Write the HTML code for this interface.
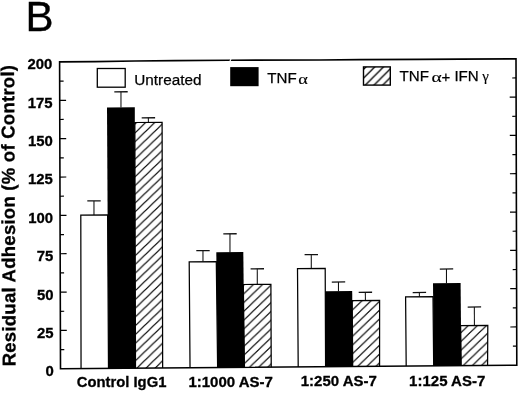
<!DOCTYPE html>
<html><head><meta charset="utf-8"><title>Figure B</title>
<style>
html,body{margin:0;padding:0;background:#fff;}
body{width:520px;height:393px;overflow:hidden;}
svg{display:block;}
text{font-family:"Liberation Sans",Arial,Helvetica,sans-serif;fill:#000;}
.b15{font-size:14.9px;font-weight:bold;}
.b145{font-size:14.8px;font-weight:bold;}
.yt{font-size:18.5px;font-weight:bold;}
.B{font-size:42px;}
.r15{font-size:15.3px;}
.r15,.r15b,.r15d{stroke:#000;stroke-width:0.25px;}
.gr{stroke:#000;stroke-width:0.15px;}
.r15b{font-size:14.9px;}
.r15d{font-size:15.1px;}
.gr{font-family:"Liberation Serif","DejaVu Serif",serif;font-size:14.6px;}
.b150{font-size:15px;font-weight:bold;}
.b15,.b145,.b150,.yt{stroke:#000;stroke-width:0.3px;}
.B{stroke:#000;stroke-width:0.35px;}
</style></head><body>
<svg width="520" height="393" viewBox="0 0 520 393">
<defs>
<pattern id="hb0" patternUnits="userSpaceOnUse" width="9.1" height="8.78" x="136.0" y="0.20">
<path d="M-1,9.745 L10.1,-0.965 M-1,18.525 L10.1,7.815 M-1,0.965 L10.1,-9.745" stroke="#000" stroke-width="1.2" fill="none"/>
</pattern>
<pattern id="hb1" patternUnits="userSpaceOnUse" width="9.1" height="8.78" x="136.0" y="2.70">
<path d="M-1,9.745 L10.1,-0.965 M-1,18.525 L10.1,7.815 M-1,0.965 L10.1,-9.745" stroke="#000" stroke-width="1.2" fill="none"/>
</pattern>
<pattern id="hb2" patternUnits="userSpaceOnUse" width="9.1" height="8.78" x="136.0" y="0.80">
<path d="M-1,9.745 L10.1,-0.965 M-1,18.525 L10.1,7.815 M-1,0.965 L10.1,-9.745" stroke="#000" stroke-width="1.2" fill="none"/>
</pattern>
<pattern id="hb3" patternUnits="userSpaceOnUse" width="9.1" height="8.78" x="136.0" y="-3.55">
<path d="M-1,9.745 L10.1,-0.965 M-1,18.525 L10.1,7.815 M-1,0.965 L10.1,-9.745" stroke="#000" stroke-width="1.2" fill="none"/>
</pattern>
<pattern id="h2" patternUnits="userSpaceOnUse" width="8.75" height="8.75" x="363" y="-0.1">
<path d="M-1,9.75 L9.75,-1 M-1,18.5 L9.75,7.75 M-1,1 L9.75,-9.75" stroke="#000" stroke-width="1.3" fill="none"/>
</pattern>
</defs>
<rect width="520" height="393" fill="#fff"/>
<path d="M94.0,215.1 L93.95,200.9" stroke="#111" stroke-width="1.05" fill="none"/>
<path d="M87.3,200.95 L100.7,200.85" stroke="#111" stroke-width="1.3" fill="none"/>
<polygon points="80.80,215.2 107.62,215.0 108.50,368.4 81.05,368.6" fill="#fff"/>
<path d="M81.05,368.6 L80.80,215.2 L107.62,215.0 L108.50,368.4" fill="none" stroke="#000" stroke-width="1.25"/>
<path d="M121.0,107.6 L120.95,91.8" stroke="#111" stroke-width="1.05" fill="none"/>
<path d="M114.3,91.85 L127.7,91.75" stroke="#111" stroke-width="1.3" fill="none"/>
<polygon points="107.00,107.5 134.80,107.3 135.50,368.2 108.50,368.4" fill="#000"/>
<path d="M148.4,122.4 L148.35,117.8" stroke="#111" stroke-width="1.05" fill="none"/>
<path d="M141.7,117.85 L155.1,117.75" stroke="#111" stroke-width="1.3" fill="none"/>
<polygon points="134.84,122.5 162.10,122.3 162.65,368.0 135.50,368.2" fill="url(#hb0)"/>
<path d="M135.50,368.2 L134.84,122.5 L162.10,122.3 L162.65,368.0" fill="none" stroke="#000" stroke-width="1.25"/>
<path d="M203.0,261.7 L202.95,250.6" stroke="#111" stroke-width="1.05" fill="none"/>
<path d="M196.3,250.65 L209.7,250.55" stroke="#111" stroke-width="1.3" fill="none"/>
<polygon points="189.20,261.8 216.30,261.6 217.63,367.6 190.03,367.8" fill="#fff"/>
<path d="M190.03,367.8 L189.20,261.8 L216.30,261.6 L217.63,367.6" fill="none" stroke="#000" stroke-width="1.25"/>
<path d="M230.0,252.4 L229.95,233.8" stroke="#111" stroke-width="1.05" fill="none"/>
<path d="M223.3,233.85 L236.7,233.75" stroke="#111" stroke-width="1.3" fill="none"/>
<polygon points="216.30,252.3 243.30,252.1 244.56,367.4 217.66,367.6" fill="#000"/>
<path d="M257.3,284.4 L257.25,268.8" stroke="#111" stroke-width="1.05" fill="none"/>
<path d="M250.6,268.85 L264.0,268.75" stroke="#111" stroke-width="1.3" fill="none"/>
<polygon points="243.30,284.5 270.90,284.3 271.23,367.2 244.43,367.4" fill="url(#hb1)"/>
<path d="M244.43,367.4 L243.30,284.5 L270.90,284.3 L271.23,367.2" fill="none" stroke="#000" stroke-width="1.25"/>
<path d="M311.3,268.5 L311.25,254.6" stroke="#111" stroke-width="1.05" fill="none"/>
<path d="M304.6,254.65 L318.0,254.55" stroke="#111" stroke-width="1.3" fill="none"/>
<polygon points="297.50,268.6 325.20,268.4 325.60,366.7 298.20,366.9" fill="#fff"/>
<path d="M298.20,366.9 L297.50,268.6 L325.20,268.4 L325.60,366.7" fill="none" stroke="#000" stroke-width="1.25"/>
<path d="M338.5,291.3 L338.45,282.0" stroke="#111" stroke-width="1.05" fill="none"/>
<path d="M331.8,282.05 L345.2,281.95" stroke="#111" stroke-width="1.3" fill="none"/>
<polygon points="325.20,291.2 352.20,291.0 352.71,366.5 325.51,366.7" fill="#000"/>
<path d="M365.4,300.6 L365.35,292.3" stroke="#111" stroke-width="1.05" fill="none"/>
<path d="M358.7,292.35 L372.1,292.25" stroke="#111" stroke-width="1.3" fill="none"/>
<polygon points="352.20,300.7 379.60,300.5 379.57,366.3 352.67,366.5" fill="url(#hb2)"/>
<path d="M352.67,366.5 L352.20,300.7 L379.60,300.5 L379.57,366.3" fill="none" stroke="#000" stroke-width="1.25"/>
<path d="M419.4,296.7 L419.35,292.5" stroke="#111" stroke-width="1.05" fill="none"/>
<path d="M412.7,292.55 L426.1,292.45" stroke="#111" stroke-width="1.3" fill="none"/>
<polygon points="405.60,296.8 433.00,296.6 433.69,365.9 406.19,366.1" fill="#fff"/>
<path d="M406.19,366.1 L405.60,296.8 L433.00,296.6 L433.69,365.9" fill="none" stroke="#000" stroke-width="1.25"/>
<path d="M446.5,283.3 L446.45,269.0" stroke="#111" stroke-width="1.05" fill="none"/>
<path d="M439.8,269.05 L453.2,268.95" stroke="#111" stroke-width="1.3" fill="none"/>
<polygon points="433.00,283.2 460.60,283.0 461.34,365.7 433.74,365.9" fill="#000"/>
<path d="M474.4,325.6 L474.35,307.0" stroke="#111" stroke-width="1.05" fill="none"/>
<path d="M467.7,307.05 L481.1,306.95" stroke="#111" stroke-width="1.3" fill="none"/>
<polygon points="460.60,325.7 487.80,325.5 487.57,365.5 461.17,365.7" fill="url(#hb3)"/>
<path d="M461.17,365.7 L460.60,325.7 L487.80,325.5 L487.57,365.5" fill="none" stroke="#000" stroke-width="1.25"/>
<path d="M59.6,61.90 L95,61.60 L135,61.00 L175,60.60 L228,60.20 L320,59.95 L360,59.65 L420,59.40 L460,59.10 L516.0,58.80 L516.8,365.25 L60.5,368.80 Z" fill="none" stroke="#000" stroke-width="1.6" stroke-linejoin="miter"/>
<path d="M229.6,62 L231.2,58.5" stroke="#fff" stroke-width="1.1"/>
<path d="M60.4,349.63 L64.3,349.58 M516.8,346.10 L512.9,346.15" stroke="#000" stroke-width="1.2"/>
<path d="M60.4,330.45 L66.8,330.40 M516.7,326.95 L510.3,327.00" stroke="#000" stroke-width="1.2"/>
<path d="M60.3,311.28 L64.2,311.23 M516.7,307.79 L512.8,307.84" stroke="#000" stroke-width="1.2"/>
<path d="M60.3,292.10 L66.7,292.05 M516.6,288.64 L510.2,288.69" stroke="#000" stroke-width="1.2"/>
<path d="M60.2,272.93 L64.1,272.88 M516.6,269.49 L512.7,269.54" stroke="#000" stroke-width="1.2"/>
<path d="M60.2,253.75 L66.6,253.70 M516.5,250.33 L510.1,250.38" stroke="#000" stroke-width="1.2"/>
<path d="M60.1,234.58 L64.0,234.53 M516.5,231.18 L512.6,231.23" stroke="#000" stroke-width="1.2"/>
<path d="M60.1,215.40 L66.5,215.35 M516.4,212.03 L510.0,212.08" stroke="#000" stroke-width="1.2"/>
<path d="M60.0,196.23 L63.9,196.18 M516.4,192.87 L512.5,192.92" stroke="#000" stroke-width="1.2"/>
<path d="M59.9,177.05 L66.3,177.00 M516.3,173.72 L509.9,173.77" stroke="#000" stroke-width="1.2"/>
<path d="M59.9,157.87 L63.8,157.82 M516.3,154.57 L512.4,154.62" stroke="#000" stroke-width="1.2"/>
<path d="M59.8,138.70 L66.2,138.65 M516.2,135.41 L509.8,135.46" stroke="#000" stroke-width="1.2"/>
<path d="M59.8,119.52 L63.7,119.47 M516.2,116.26 L512.3,116.31" stroke="#000" stroke-width="1.2"/>
<path d="M59.7,100.35 L66.1,100.30 M516.1,97.11 L509.7,97.16" stroke="#000" stroke-width="1.2"/>
<path d="M59.7,81.17 L63.6,81.12 M516.1,77.95 L512.2,78.00" stroke="#000" stroke-width="1.2"/>
<text transform="translate(53.8,376.2) scale(1,1.035)" text-anchor="end" class="b15">0</text>
<text transform="translate(53.6,337.8) scale(1,1.035)" text-anchor="end" class="b15">25</text>
<text transform="translate(53.5,299.5) scale(1,1.035)" text-anchor="end" class="b15">50</text>
<text transform="translate(53.3,261.1) scale(1,1.035)" text-anchor="end" class="b15">75</text>
<text transform="translate(53.1,222.8) scale(1,1.035)" text-anchor="end" class="b15">100</text>
<text transform="translate(52.9,184.4) scale(1,1.035)" text-anchor="end" class="b15">125</text>
<text transform="translate(52.8,146.0) scale(1,1.035)" text-anchor="end" class="b15">150</text>
<text transform="translate(52.6,107.7) scale(1,1.035)" text-anchor="end" class="b15">175</text>
<text transform="translate(52.4,69.3) scale(1,1.035)" text-anchor="end" class="b15">200</text>
<text transform="translate(15.6,366.3) rotate(-90.3)" class="yt" textLength="301.3" lengthAdjust="spacing">Residual Adhesion (% of Control)</text>
<text x="121.6" y="387.2" text-anchor="middle" class="b145">Control IgG1</text>
<text x="230.7" y="386.6" text-anchor="middle" class="b150">1:1000 AS-7</text>
<text x="338.8" y="385.7" text-anchor="middle" class="b150">1:250 AS-7</text>
<text x="447.2" y="385.8" text-anchor="middle" class="b150">1:125 AS-7</text>
<text x="25.6" y="30.8" class="B">B</text>
<rect x="97.3" y="68.5" width="27.9" height="18.7" fill="#fff" stroke="#000" stroke-width="1.3"/>
<text x="134.3" y="84.5" class="r15">Untreated</text>
<rect x="230.2" y="67.1" width="28.4" height="19.1" fill="#000"/>
<text x="267.3" y="83.2" class="r15d">TNF</text>
<text x="298.3" y="83.9" class="gr" textLength="9.6" lengthAdjust="spacingAndGlyphs">α</text>
<rect x="363.5" y="66.9" width="26.8" height="18.2" fill="url(#h2)" stroke="#000" stroke-width="1.4"/>
<text x="399.6" y="81.3" class="r15d">TNF</text>
<text x="431.6" y="81.9" class="gr" textLength="10.2" lengthAdjust="spacingAndGlyphs">α</text>
<text x="441.5" y="81.6" class="r15b">+</text>
<text x="454.4" y="80.6" class="r15d">IFN</text>
<text x="482.2" y="81.2" class="gr" textLength="6.6" lengthAdjust="spacingAndGlyphs">γ</text>
</svg>
</body></html>
